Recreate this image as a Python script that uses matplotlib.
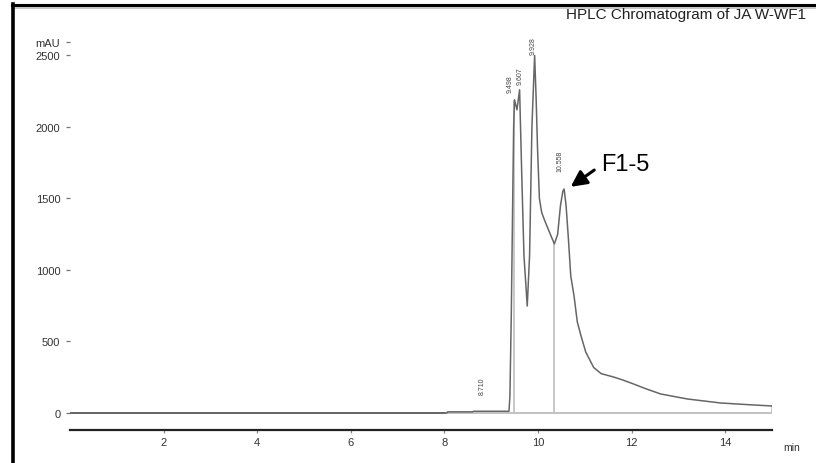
import matplotlib

matplotlib.use("Agg")
import matplotlib.pyplot as plt
from matplotlib.lines import Line2D

plt.rcParams["font.family"] = ["Liberation Sans", "DejaVu Sans"]

# chromatogram trace (min, mAU)
time_min = [0.0, 8.05, 8.07, 8.60, 8.62, 9.38, 9.40, 9.43, 9.46, 9.48, 9.498,
            9.55, 9.607, 9.65, 9.70, 9.77, 9.82, 9.87, 9.928, 9.96, 9.99,
            10.03, 10.08, 10.15, 10.25, 10.35, 10.42, 10.48, 10.53, 10.558,
            10.60, 10.65, 10.70, 10.77, 10.84, 10.92, 11.02, 11.19, 11.35,
            11.61, 11.80, 12.04, 12.30, 12.62, 13.19, 13.90, 14.50, 15.0]
signal_mau = [0, 0, 8, 8, 12, 12, 120, 700, 1500, 2000, 2190,
              2120, 2260, 1700, 1100, 748, 1100, 2000, 2500, 2200, 1850,
              1500, 1400, 1340, 1260, 1182, 1250, 1450, 1550, 1566,
              1450, 1217, 958, 818, 636, 538, 426, 318, 275,
              252, 232, 203, 170, 133, 98, 70, 58, 49]

# integration baseline and drop lines
base_start, base_end = 8.0, 15.0
drop_times = [9.49, 10.35, 15.0]
drop_tops = [2180, 1182, 49]

# peak retention-time labels: (x position, bottom of label)
peak_names = ["8.710", "9.498", "9.607", "9.928", "10.558"]
peak_x = [8.81, 9.41, 9.61, 9.905, 10.48]
peak_y = [135, 2245, 2300, 2510, 1690]

yticks = [0, 500, 1000, 1500, 2000, 2500, 2594]
ytick_labels = ["0", "500", "1000", "1500", "2000", "2500", "mAU"]
xticks = [2, 4, 6, 8, 10, 12, 14]

fig = plt.figure(figsize=(8.16, 4.64), dpi=100)
ax = fig.add_axes([70 / 816, 33 / 464, 702 / 816, 401 / 464])
ax.set_xlim(0, 15)
ax.set_ylim(-119, 2685)

ax.plot(time_min, signal_mau, color="#666666", linewidth=1.1, zorder=3)
ax.plot([0, base_start], [0, 0], color="#555555", linewidth=1.2, zorder=2)
ax.plot([base_start, base_end], [0, 0], color="#bdbdbd", linewidth=1.3, zorder=1)
for t, top in zip(drop_times, drop_tops):
    ax.plot([t, t], [0, top], color="#c4c4c4", linewidth=1.3, zorder=1)

for name, x, y in zip(peak_names, peak_x, peak_y):
    ax.text(x, y, name, rotation=90, ha="center", va="bottom", fontsize=5,
            color="#444444")

ax.annotate("", xy=(10.65, 1570), xytext=(11.25, 1710),
            arrowprops=dict(arrowstyle="-|>", color="black", linewidth=2.2,
                            mutation_scale=24))
ax.text(11.35, 1740, "F1-5", fontsize=17, va="center", ha="left")

for s in ("left", "top", "right"):
    ax.spines[s].set_visible(False)
ax.spines["bottom"].set_linewidth(1.6)
ax.spines["bottom"].set_color("#222222")

ax.set_yticks(yticks)
ax.set_yticklabels(ytick_labels)
ax.set_xticks(xticks)
ax.set_xticklabels([str(v) for v in xticks])
ax.tick_params(axis="y", length=3, width=0.9, color="#777777", pad=4,
               labelsize=8, labelcolor="#333333")
ax.tick_params(axis="x", length=2, width=0.9, color="#888888", pad=3,
               labelsize=8, labelcolor="#333333")

fig.text(792 / 816, 1 - 448 / 464, "min", fontsize=7.5, ha="center", va="center",
         color="#333333")
fig.text(806 / 816, 1 - 15 / 464, "HPLC Chromatogram of JA W-WF1", fontsize=11,
         ha="right", va="center", color="#222222")

# frame around the figure (top and left only, as in the scan)
fig.add_artist(Line2D([12 / 816, 1], [1 - 6 / 464, 1 - 6 / 464], color="black",
                      linewidth=2.2, transform=fig.transFigure))
fig.add_artist(Line2D([14 / 816, 1], [1 - 9 / 464, 1 - 9 / 464], color="#bbbbbb",
                      linewidth=1.2, transform=fig.transFigure))
fig.add_artist(Line2D([13 / 816, 13 / 816], [0, 1 - 5 / 464], color="black",
                      linewidth=2.6, transform=fig.transFigure))

fig.savefig("out.png", dpi=100)
